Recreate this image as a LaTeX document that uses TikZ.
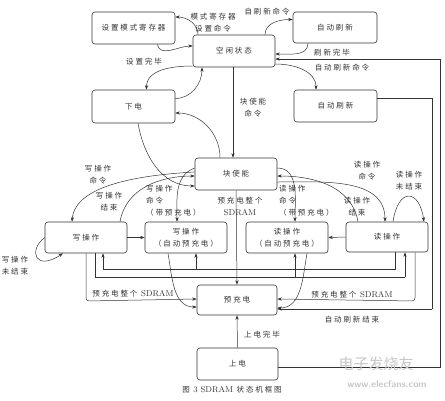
\documentclass[tikz,border=0pt]{standalone}
\usepackage{fontspec}
\newfontfamily\cjk[LetterSpace=25]{Noto Sans CJK SC}
\newfontfamily\cjkw{Noto Sans CJK SC}
\newcommand\cjkf{\cjk\fontsize{7.5}{12}\selectfont}
\usetikzlibrary{arrows.meta}
\begin{document}
\begin{tikzpicture}[x=1pt,y=-1pt,
  box/.style={draw=black!80, line width=0.6pt, rounded corners=3pt, minimum width=82pt, minimum height=32pt, inner sep=0pt, font=\cjkf, text=black!80, align=center},
  lab/.style={font=\cjkf, text=black!80, align=center, inner sep=0pt},
  arr/.style={-{Stealth[length=4.5pt,width=3.2pt]}, line width=0.5pt, draw=black!80},
  ln/.style={line width=0.5pt, draw=black!80}]
\useasboundingbox (0,0) rectangle (445,400);
% boxes
\node[box, minimum width=83pt] (setm) at (133.5,28) {设置模式寄存器};
\node[box] (idle) at (234,51) {空闲状态};
\node[box, minimum width=84pt, minimum height=31pt] (ar1) at (335,27.5) {自动刷新};
\node[box, minimum width=83pt, minimum height=33pt] (down) at (133.5,106.5) {下电};
\node[box, minimum width=83pt] (ar2) at (335.5,106) {自动刷新};
\node[box] (blk) at (236,174) {块使能};
\node[box, minimum height=31pt] (wr) at (86,237.5) {写操作};
\node[box, minimum height=31pt] (wrap) at (186,237.5) {写操作\\（自动预充电）};
\node[box, minimum height=31pt] (rdap) at (287,237.5) {读操作\\（自动预充电）};
\node[box, minimum height=30pt] (rd) at (387,237) {读操作};
\node[box, minimum width=80pt, minimum height=30pt] (pre) at (237,300) {预充电};
\node[box, minimum width=81pt] (up) at (237.5,364) {上电};
% coordinates
\coordinate (c1) at (440,367);
\coordinate (c2) at (440,59);
\coordinate (c3) at (432,98);
\coordinate (c4) at (432,309);
% top transitions
\draw[arr] ([xshift=-36pt]idle.north) to[out=90,in=0] ([yshift=11pt]setm.east);
\draw[arr] ([xshift=24pt]setm.south) to[out=-80,in=180] ([yshift=5pt]idle.west);
\draw[arr] ([yshift=-15pt]idle.west) to[out=180,in=90] ([xshift=13pt]down.north);
\draw[arr] ([yshift=8pt]down.east) to[out=0,in=-90] ([xshift=-32pt]idle.south);
\draw[arr] ([xshift=31pt]idle.north) to[out=90,in=180] ([yshift=8pt]ar1.west);
\draw[arr] ([xshift=-27pt]ar1.south) to[out=-90,in=0] ([yshift=-3pt]idle.east);
\draw[arr] ([yshift=-13pt]idle.east) to[out=0,in=90] ([xshift=-19.5pt]ar2.north);
\draw[ln] (up.east |- c1) -- (c1) -- (c2) [arr] -- (idle.east |- c2);
\draw[arr] ([xshift=-1pt]idle.south) -- ([xshift=-3pt]blk.north);
\draw[ln] (ar2.east |- c3) -- (c3) -- (c4);
\draw[arr] (c4) -- (pre.east |- c4);
% down <-> blk
\draw[arr] ([xshift=4.5pt]down.south) to[out=-80,in=180] ([yshift=-12pt]blk.west);
\draw[arr] ([xshift=-16pt]blk.north) to[out=90,in=0] ([yshift=-6.5pt]down.east);
% blk <-> write
\draw[arr] ([yshift=2pt]blk.west) .. controls (140,175) and (75,185) .. ([xshift=-14pt]wr.north);
\draw[arr] ([xshift=34pt]wr.north) to[out=80,in=180] ([yshift=-2pt]blk.west);
\draw[arr] ([yshift=6pt]blk.west) to[out=200,in=90] ([xshift=-9pt]wrap.north);
\draw[arr] (wr.east) -- (wrap.west);
\draw[arr] (wr.west) .. controls (28,250) and (35,272) .. ([xshift=-23pt]wr.south);
% blk <-> read
\draw[arr] ([yshift=-8pt]blk.east) to[out=0,in=90] ([xshift=-2pt]rd.north);
\draw[arr] ([xshift=-29pt]rd.north) to[out=100,in=0] ([yshift=-2pt]blk.east);
\draw[arr] ([yshift=6pt]blk.east) to[out=0,in=90] ([xshift=8pt]rdap.north);
\draw[arr] (rd.west) -- (rdap.east);
\draw[arr] ([xshift=6pt]rd.north) .. controls (398,188) and (419,188) .. ([xshift=37pt]rd.north);
% bottom buses
\coordinate (b1) at (395,269);
\coordinate (b2) at (95,277);
\draw[ln] (rd.south -| b1) -- (b1) -- (103,269);
\draw[arr] (103,269) -- (wr.south -| 103,0);
\draw[arr] (196,269) -- (wrap.south -| 196,0);
\draw[ln] (wr.south -| b2) -- (b2) -- (405,277);
\draw[arr] (405,277) -- (rd.south -| 405,0);
\draw[arr] (295,277) -- (rdap.south -| 295,0);
% to precharge
\draw[arr] (blk.south) -- (pre.north);
\draw[arr] (up.north) -- (pre.south);
\draw[arr] ([xshift=-18pt]wrap.south) to[out=-80,in=180] ([yshift=-7pt]pre.west);
\draw[arr] ([xshift=20pt]rdap.south) to[out=-100,in=0] ([yshift=-8pt]pre.east);
\draw[arr, rounded corners=3pt] (wr.south -| 86,0) -- (86,301) -- ([yshift=1pt]pre.west);
\draw[arr, rounded corners=3pt] (rd.south -| 415,0) -- (415,301) -- ([yshift=1pt]pre.east);
% labels
\node[lab] (l1) at (213,23) {模式寄存器\\设置命令};
\node[lab] (l2) at (144,62) {设置完毕};
\node[lab] (l3) at (267,12) {自刷新命令};
\node[lab] (l4) at (332,53) {刷新完毕};
\node[lab] (l5) at (342,68) {自动刷新命令};
\node[lab] (l6) at (253,108) {块使能\\命令};
\node[lab] (l7) at (98,175) {写操作\\命令};
\node[lab] (l8) at (109,202) {写操作\\结束};
\node[lab, align=left, anchor=west] (l9) at (146,201) {写操作\\命令\\（带预充电）};
\node[lab] (l10) at (240,206) {预充电整个\\{\rmfamily\fontsize{8.5}{12}\selectfont SDRAM}};
\node[lab, align=left, anchor=west] (l11) at (279,201) {读操作\\命令\\（带预充电）};
\node[lab] (l12) at (367,171) {读操作\\命令};
\node[lab] (l13) at (357,207) {读操作\\结束};
\node[lab] (l14) at (409,181) {读操作\\未结束};
\node[lab] (l15) at (15,266) {写操作\\未结束};
\node[lab] (l16) at (133,294) {预充电整个 {\rmfamily\fontsize{8.5}{10}\selectfont SDRAM}};
\node[lab] (l17) at (352,295) {预充电整个 {\rmfamily\fontsize{8.5}{10}\selectfont SDRAM}};
\node[lab] (l18) at (352,320) {自动刷新结束};
\node[lab] (l19) at (262,335) {上电完毕};
\node[lab] (cap) at (232,390) {图 {\rmfamily\fontsize{8.5}{10}\selectfont 3 SDRAM} 状态机框图};
\node[lab, text=black!22, font=\cjkw\fontsize{15}{16}\selectfont] (wm1) at (376,364) {电子发烧友};
\node[lab, text=black!22, font=\sffamily\bfseries\fontsize{9.5}{10}\selectfont] (wm2) at (387,384) {www.elecfans.com};
\end{tikzpicture}
\end{document}
